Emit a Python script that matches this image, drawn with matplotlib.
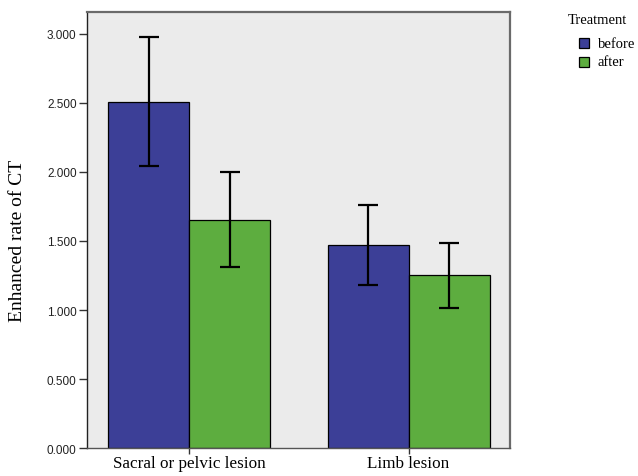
import matplotlib
matplotlib.use("Agg")
import matplotlib.pyplot as plt
import numpy as np
from matplotlib.patches import Rectangle

categories = ["Sacral or pelvic lesion", "Limb lesion"]
groups = ["before", "after"]
means_before = [2.508, 1.473]
means_after = [1.654, 1.252]
err_before = [0.467, 0.290]
err_after = [0.345, 0.234]
y_ticks = [0.0, 0.5, 1.0, 1.5, 2.0, 2.5, 3.0]
y_tick_labels = ["0.000", "0.500", "1.000", "1.500", "2.000", "2.500", "3.000"]

blue = "#3c3f97"
green = "#5dad3f"

fig = plt.figure(figsize=(6.38, 4.77), dpi=100)
ax = fig.add_axes([87 / 638, 1 - 449.3 / 477, (510 - 87) / 638, (449.3 - 13) / 477])
ax.set_facecolor("#ebebeb")

x = np.arange(len(categories))
w = 0.369
err_kw = dict(ecolor="black", elinewidth=1.6, capsize=7.5, capthick=1.6)
ax.bar(x - w / 2, means_before, w, color=blue, edgecolor="black", linewidth=0.9,
       yerr=err_before, error_kw=err_kw, zorder=2)
ax.bar(x + w / 2, means_after, w, color=green, edgecolor="black", linewidth=0.9,
       yerr=err_after, error_kw=err_kw, zorder=2)

ax.set_xlim(-0.465, 1.462)
ax.set_ylim(0, 3.157)
ax.set_yticks(y_ticks)
ax.set_yticklabels(y_tick_labels, family="Liberation Sans", fontsize=8.5, color="#222222")
ax.set_xticks(x)
ax.set_xticklabels(categories, family="Liberation Serif", fontsize=12.3)
ax.tick_params(axis="y", direction="out", length=6, width=1, color="#333333", pad=1.5)
ax.tick_params(axis="x", direction="out", length=4, width=1, color="#333333", pad=1)

for side in ("top", "right"):
    ax.spines[side].set_color("#6a6a6a")
    ax.spines[side].set_linewidth(1.6)
ax.spines["left"].set_color("#222222")
ax.spines["left"].set_linewidth(1.0)
ax.spines["bottom"].set_color("#555555")
ax.spines["bottom"].set_linewidth(1.0)

fig.text(18 / 638, 1 - 241 / 477, "Enhanced rate of CT", rotation=90,
         family="Liberation Serif", fontsize=14, ha="center", va="center")

# Legend
fig.text(568 / 638, 1 - 20 / 477, "Treatment", family="Liberation Serif",
         fontsize=10.5, ha="left", va="center")
for i, (label, col) in enumerate(zip(groups, [blue, green])):
    yc = 44 + i * 19
    fig.patches.append(Rectangle((579 / 638, 1 - (yc + 5) / 477), 10 / 638, 10 / 477,
                                 transform=fig.transFigure, facecolor=col,
                                 edgecolor="black", linewidth=0.9))
    fig.text(598 / 638, 1 - yc / 477, label, family="Liberation Serif",
             fontsize=10.5, ha="left", va="center")

fig.savefig("out.png", dpi=100)
